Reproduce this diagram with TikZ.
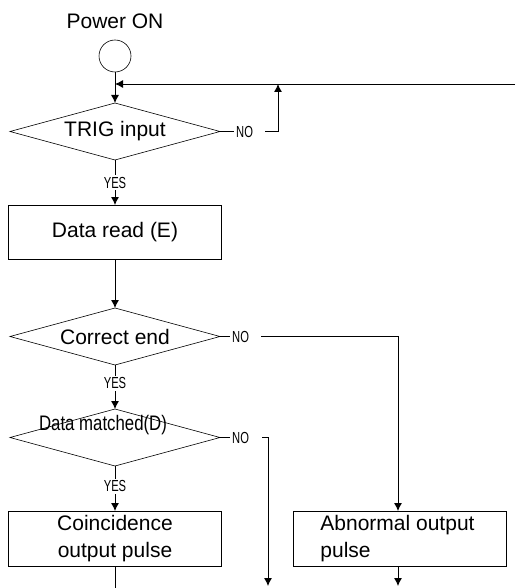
\documentclass[tikz,border=0pt]{standalone}
\usepackage{fontspec}
\setmainfont{Liberation Sans}
\newfontfamily\ynfont[FakeStretch=0.7]{Liberation Sans}
\newfontfamily\narrowfont[FakeStretch=0.8]{Liberation Sans}
\usetikzlibrary{arrows.meta, positioning, shapes.geometric}

\begin{document}
\begin{tikzpicture}[x=1pt, y=-1pt, font=\fontsize{21}{27}\selectfont, box/.style={draw, line width=0.7pt, align=center, minimum width=213pt, minimum height=54pt, inner sep=2pt, outer sep=0pt}, decision/.style={draw, diamond, line width=0.6pt, aspect=3.68, minimum width=210pt, minimum height=57pt, inner sep=0pt, outer sep=0pt}, yn/.style={font=\ynfont\fontsize{16}{18}\selectfont, inner ysep=0pt, inner xsep=2pt}, yes/.style={yn, fill=white, inner xsep=1pt, inner ysep=2pt}, arrow/.style={-{Latex[length=8pt, width=8pt]}, line width=0.9pt}]
\useasboundingbox (0,0) rectangle (515,588);

\node[draw, circle, line width=0.6pt, minimum size=32pt, inner sep=0pt, outer sep=0pt] (start) at (115,56) {};
\node[inner sep=0pt, above=11pt of start] (power) {Power ON};
\node[decision, below=31pt of start] (trig) {TRIG input};
\node[box, below=45pt of trig] (read) {Data read (E)};
\node[decision, below=49pt of read] (correct) {Correct end};
\node[decision, below=44pt of correct] (match) {\narrowfont\kern-12pt\raisebox{12pt}[\height][\depth]{Data matched(D)}\kern12pt};
\node[box, minimum height=55pt, below=45pt of match] (coin) {Coincidence\\output pulse};
\node[box, minimum height=55pt, align=left, right=72pt of coin] (abn) {\kern-5pt Abnormal output\\\kern-5pt pulse};

% NO labels
\node[yn, right=14pt of trig] (no1) {NO};
\node[yn, right=10pt of correct] (no2) {NO};
\node[yn, right=10pt of match] (no3) {NO};

\coordinate (loopR) at (515,84);
\coordinate (up1) at (278,84);
\coordinate (end1) at (115,588);
\coordinate (end2) at (268,586);

\draw[arrow] (start) -- (trig);
\draw[arrow] (loopR) -- (start.south |- loopR);
\draw (trig.east) -- (no1.west);\draw[arrow] ([xshift=10pt]no1.east) -| (up1);
\draw[arrow] (trig) -- node[yes] (yes1) {YES} (read);
\draw[arrow] (read) -- (correct);
\draw (correct.east) -- (no2.west);\draw[arrow] ([xshift=10pt]no2.east) -| ([xshift=-2pt]abn.north);
\draw[arrow] (correct) -- node[yes, pos=0.42] (yes2) {YES} (match);
\draw (match.east) -- (no3.west);\draw[arrow] ([xshift=11pt]no3.east) -| (end2);
\draw[arrow] (match) -- node[yes, pos=0.45] (yes3) {YES} (coin);
\draw[line width=0.9pt] (coin) -- (end1);
\draw[arrow] ([xshift=-2pt]abn.south) -- ([xshift=-2pt]abn.south |- end2);

\end{tikzpicture}
\end{document}
